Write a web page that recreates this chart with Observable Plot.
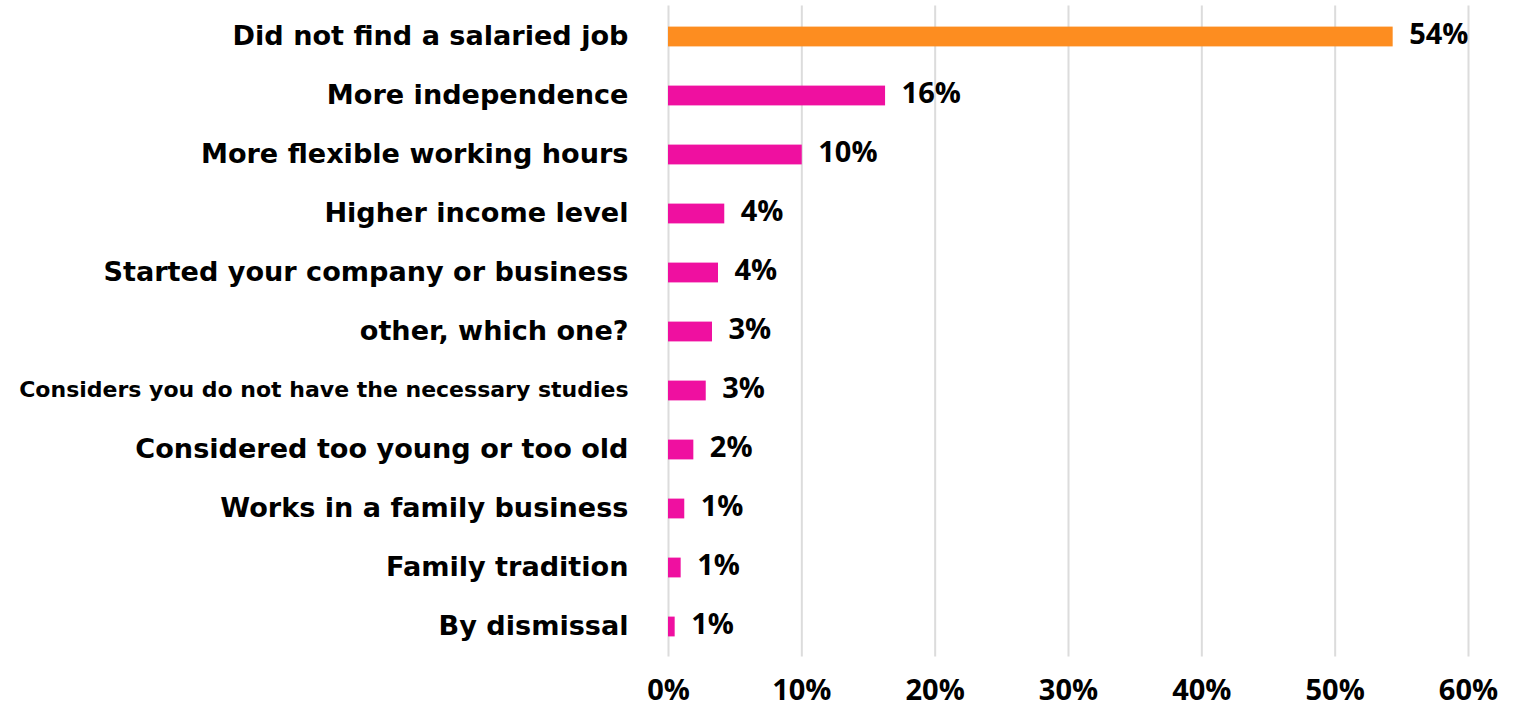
<!DOCTYPE html>
<html>
<head>
<meta charset="utf-8">
<script src="https://cdn.jsdelivr.net/npm/d3@7"></script>
<script src="https://cdn.jsdelivr.net/npm/@observablehq/plot@0.6"></script>
<style>
  html, body { margin: 0; padding: 0; background: #fff; }
  #chart svg { display: block; overflow: visible; }
</style>
</head>
<body>
<div id="chart"></div>
<script>
const categories = [
  "Did not find a salaried job",
  "More independence",
  "More flexible working hours",
  "Higher income level",
  "Started your company or business",
  "other, which one?",
  "Considers you do not have the necessary studies",
  "Considered too young or too old",
  "Works in a family business",
  "Family tradition",
  "By dismissal"
];
const values = [54.35, 16.28, 10.03, 4.22, 3.75, 3.3, 2.83, 1.9, 1.22, 0.95, 0.5];
const valueLabels = ["54%", "16%", "10%", "4%", "4%", "3%", "3%", "2%", "1%", "1%", "1%"];
const xTicks = [0, 10, 20, 30, 40, 50, 60];

const data = categories.map((c, i) => ({label: c, value: values[i], text: valueLabels[i], highlight: i === 0}));

const chart = Plot.plot({
  width: 1516,
  height: 706,
  marginLeft: 668,
  marginRight: 48,
  marginTop: 5.4,
  marginBottom: 49.4,
  style: {background: "transparent", color: "#000"},
  x: {domain: [0, 60], axis: null, label: null},
  y: {domain: categories, padding: 0, axis: null, label: null},
  marks: [
    Plot.ruleX(xTicks, {stroke: "#dcdcdc", strokeWidth: 2}),
    Plot.barX(data, {
      x: "value", y: "label",
      fill: d => d.highlight ? "#FD8D20" : "#EF10A0",
      insetTop: 19.6, insetBottom: 19.6
    }),
    Plot.text(data, {
      x: "value", y: "label", text: "text",
      dx: 16, dy: -2, textAnchor: "start",
      fontFamily: "Open Sans", fontWeight: 700, fontSize: 29, fill: "#000"
    }),
    Plot.text(data, {
      x: 0, y: "label", text: "label",
      dx: -40, dy: -1, textAnchor: "end",
      fontFamily: "DejaVu Sans", fontWeight: 700,
      fontSize: d => d.label.length > 40 ? 22 : 27.1, fill: "#000"
    }),
    Plot.axisX(xTicks, {
      label: null,
      tickSize: 0, tickPadding: 22,
      tickFormat: d => d + "%",
      fontFamily: "Open Sans", fontWeight: 700, fontSize: 29, fill: "#000"
    })
  ]
});
document.getElementById("chart").appendChild(chart);
</script>
</body>
</html>
